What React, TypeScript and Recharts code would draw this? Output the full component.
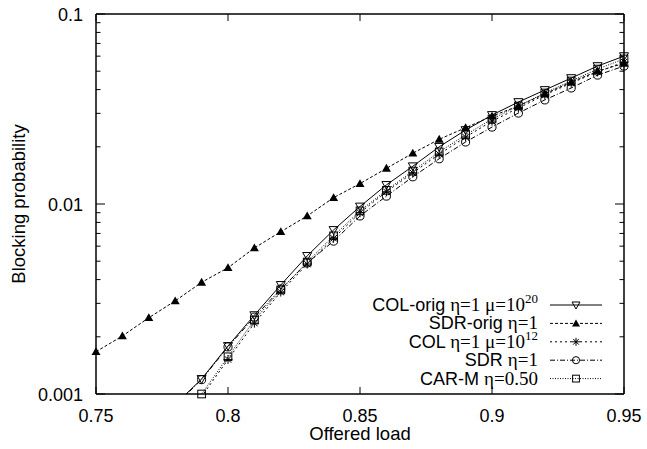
import { Legend, Line, LineChart, XAxis, YAxis } from 'recharts'

const offeredLoad = [0.75, 0.76, 0.77, 0.78, 0.79, 0.8, 0.81, 0.82, 0.83, 0.84, 0.85, 0.86, 0.87, 0.88, 0.89, 0.9, 0.91, 0.92, 0.93, 0.94, 0.95]

const colOrig = [null, null, null, 0.00088, 0.0012, 0.00179, 0.0026, 0.00375, 0.00533, 0.0073, 0.0097, 0.0126, 0.0158, 0.02, 0.0245, 0.0294, 0.0344, 0.0398, 0.046, 0.0532, 0.06]
const sdrOrig = [0.00167, 0.00202, 0.00252, 0.00309, 0.00387, 0.00462, 0.00587, 0.00715, 0.00865, 0.0108, 0.0128, 0.0154, 0.0185, 0.0219, 0.0252, 0.029, 0.0328, 0.038, 0.0438, 0.05, 0.055]
const col = [null, null, null, 0.0008, 0.00097, 0.00152, 0.00236, 0.00344, 0.00483, 0.0066, 0.009, 0.0116, 0.0146, 0.0183, 0.0225, 0.0273, 0.032, 0.0375, 0.0433, 0.0495, 0.0559]
const sdr = [null, null, null, 0.00087, 0.00119, 0.00177, 0.00254, 0.00357, 0.00489, 0.00638, 0.00865, 0.011, 0.0139, 0.0173, 0.0212, 0.0254, 0.0301, 0.0353, 0.0408, 0.0477, 0.0532]
const carM = [null, null, null, 0.00083, 0.001, 0.00157, 0.00245, 0.00353, 0.00495, 0.0068, 0.0092, 0.0118, 0.0149, 0.0188, 0.0231, 0.028, 0.0328, 0.0384, 0.0444, 0.0513, 0.058]

const xTicks = [0.75, 0.8, 0.85, 0.9, 0.95]
const yTicks = [
  0.001, 0.002, 0.003, 0.004, 0.005, 0.006, 0.007, 0.008, 0.009,
  0.01, 0.02, 0.03, 0.04, 0.05, 0.06, 0.07, 0.08, 0.09, 0.1,
]
const yLabelled = [0.001, 0.01, 0.1]

const Y_MIN = 0.001
const Y_MAX = 0.1

const SANS = '"Liberation Sans", Arial, Helvetica, sans-serif'
const SERIF = '"Liberation Serif", "Times New Roman", serif'

type MarkerKind = 'triDown' | 'triUp' | 'star' | 'circle' | 'square'

const series = [
  { key: 'colOrig', values: colOrig, marker: 'triDown' as MarkerKind, dash: undefined, label: 'COL-orig ', greek: 'η=1 μ=10', sup: '20' },
  { key: 'sdrOrig', values: sdrOrig, marker: 'triUp' as MarkerKind, dash: '3 2', label: 'SDR-orig ', greek: 'η=1', sup: '' },
  { key: 'col', values: col, marker: 'star' as MarkerKind, dash: '2 3', label: 'COL ', greek: 'η=1 μ=10', sup: '12' },
  { key: 'sdr', values: sdr, marker: 'circle' as MarkerKind, dash: '5 2 1 2', label: 'SDR ', greek: 'η=1', sup: '' },
  { key: 'carM', values: carM, marker: 'square' as MarkerKind, dash: '1 1.5', label: 'CAR-M ', greek: 'η=0.50', sup: '' },
]

// rows for the chart; the "_m" copies hide values under the axis so markers stay in range
const rows = offeredLoad.map((x, i) => {
  const row: Record<string, number | null> = { x }
  series.forEach((s) => {
    const v = s.values[i]
    row[s.key] = v
    row[s.key + '_m'] = v != null && v >= Y_MIN ? v : null
  })
  return row
})

function Marker({ kind, cx, cy, s }: { kind: MarkerKind; cx: number; cy: number; s: number }) {
  switch (kind) {
    case 'triDown':
      return <polygon points={`${cx - s},${cy - s * 0.75} ${cx + s},${cy - s * 0.75} ${cx},${cy + s}`} fill="none" stroke="#000" strokeWidth={1} />
    case 'triUp':
      return <polygon points={`${cx},${cy - s} ${cx + s},${cy + s * 0.75} ${cx - s},${cy + s * 0.75}`} fill="#000" />
    case 'star': {
      const d = s * 0.72
      return (
        <path
          d={`M${cx - s},${cy}H${cx + s}M${cx},${cy - s}V${cy + s}M${cx - d},${cy - d}L${cx + d},${cy + d}M${cx - d},${cy + d}L${cx + d},${cy - d}`}
          stroke="#000"
          strokeWidth={1}
        />
      )
    }
    case 'circle':
      return <circle cx={cx} cy={cy} r={s * 0.9} fill="none" stroke="#000" strokeWidth={1} />
    default:
      return <rect x={cx - s * 0.85} y={cy - s * 0.85} width={s * 1.7} height={s * 1.7} fill="none" stroke="#000" strokeWidth={1} />
  }
}

const dotFor = (kind: MarkerKind) => (p: any) => {
  const k = `${kind}-${p.index}`
  if (p.cx == null || p.cy == null || p.value == null) return <g key={k} />
  return <Marker key={k} kind={kind} cx={p.cx} cy={p.cy} s={4.5} />
}

const LeftTick = ({ x, y, payload }: any) => {
  const major = yLabelled.includes(payload.value)
  return (
    <g>
      <line x1={x + 13} x2={x + 13 + (major ? 9 : 4.5)} y1={y} y2={y} stroke="#000" />
      {major && (
        <text x={x} y={y} dy={6.5} textAnchor="end" fontSize={18} fontFamily={SANS} fill="#000">
          {String(payload.value)}
        </text>
      )}
    </g>
  )
}

const RightTick = ({ x, y, payload }: any) => {
  const major = yLabelled.includes(payload.value)
  return <line x1={x} x2={x - (major ? 9 : 4.5)} y1={y} y2={y} stroke="#000" />
}

const BottomTick = ({ x, y, payload }: any) => (
  <g>
    <line x1={x} x2={x} y1={y - 14} y2={y - 21} stroke="#000" />
    <text x={x} y={y} dy={13.5} textAnchor="middle" fontSize={18} fontFamily={SANS} fill="#000">
      {String(payload.value)}
    </text>
  </g>
)

const TopTick = ({ x, y }: any) => <line x1={x} x2={x} y1={y} y2={y + 7} stroke="#000" />

function KeyBox() {
  const rowGap = 18.4
  return (
    <svg width={260} height={110}>
      {series.map((s, i) => {
        const cy = 20 + i * rowGap
        return (
          <g key={s.key}>
            <text x={178} y={cy + 6} textAnchor="end" fill="#000">
              <tspan fontFamily={SANS} fontSize={18}>{s.label}</tspan>
              <tspan fontFamily={SERIF} fontSize={19}>{s.greek}</tspan>
              {s.sup && (
                <tspan fontFamily={SERIF} fontSize={13} dy={-8}>{s.sup}</tspan>
              )}
            </text>
            <line x1={190} x2={242} y1={cy} y2={cy} stroke="#000" strokeWidth={1} strokeDasharray={s.dash} />
            <Marker kind={s.marker} cx={216} cy={cy} s={4} />
          </g>
        )
      })}
    </svg>
  )
}

const axisLine = { stroke: '#000', strokeWidth: 1.5 }

export default function App() {
  return (
    <div style={{ position: 'absolute', left: 0, top: 0, background: '#fff' }}>
      <LineChart
        width={647}
        height={449}
        data={rows}
        margin={{ top: 13, right: 22, bottom: 0, left: 0 }}
        style={{ fontFamily: SANS }}
      >
        <XAxis
          xAxisId="bottom"
          dataKey="x"
          type="number"
          domain={[0.75, 0.95]}
          ticks={xTicks}
          interval={0}
          height={55}
          tickSize={0}
          tickMargin={14}
          tickLine={false}
          axisLine={axisLine}
          tick={<BottomTick />}
          label={{
            content: (p: any) => {
              const vb = p.viewBox
              return (
                <text x={vb.x + vb.width / 2} y={440} textAnchor="middle" fontSize={18.5} fontFamily={SANS} fill="#000">
                  Offered load
                </text>
              )
            },
          }}
        />
        <XAxis
          xAxisId="top"
          orientation="top"
          dataKey="x"
          type="number"
          domain={[0.75, 0.95]}
          ticks={xTicks}
          interval={0}
          height={1}
          tickSize={0}
          tickMargin={0}
          tickLine={false}
          axisLine={axisLine}
          tick={<TopTick />}
        />
        <YAxis
          yAxisId="left"
          type="number"
          scale="log"
          domain={[Y_MIN, Y_MAX]}
          allowDataOverflow
          ticks={yTicks}
          interval={0}
          width={96}
          tickSize={0}
          tickMargin={13}
          tickLine={false}
          axisLine={axisLine}
          tick={<LeftTick />}
          label={{
            content: (p: any) => {
              const vb = p.viewBox
              const cy = vb.y + vb.height / 2
              return (
                <text x={18} y={cy} transform={`rotate(-90 18 ${cy})`} textAnchor="middle" dy={6.5} fontSize={18.5} fontFamily={SANS} fill="#000">
                  Blocking probability
                </text>
              )
            },
          }}
        />
        <YAxis
          yAxisId="right"
          orientation="right"
          type="number"
          scale="log"
          domain={[Y_MIN, Y_MAX]}
          ticks={yTicks}
          interval={0}
          width={1}
          tickSize={0}
          tickMargin={0}
          tickLine={false}
          axisLine={axisLine}
          tick={<RightTick />}
        />
        {series.map((s) => (
          <Line
            key={s.key}
            xAxisId="bottom"
            yAxisId="left"
            dataKey={s.key}
            type="linear"
            stroke="#000"
            strokeWidth={1}
            strokeDasharray={s.dash}
            dot={false}
            activeDot={false}
            isAnimationActive={false}
          />
        ))}
        {series.map((s) => (
          <Line
            key={s.key + '_m'}
            xAxisId="bottom"
            yAxisId="right"
            dataKey={s.key + '_m'}
            type="linear"
            stroke="none"
            dot={dotFor(s.marker)}
            activeDot={false}
            isAnimationActive={false}
          />
        ))}
        <Legend
          layout="vertical"
          align="center"
          verticalAlign="middle"
          content={() => <KeyBox />}
          wrapperStyle={{ left: 360, top: 285, width: 260, height: 110 }}
        />
      </LineChart>
    </div>
  )
}
